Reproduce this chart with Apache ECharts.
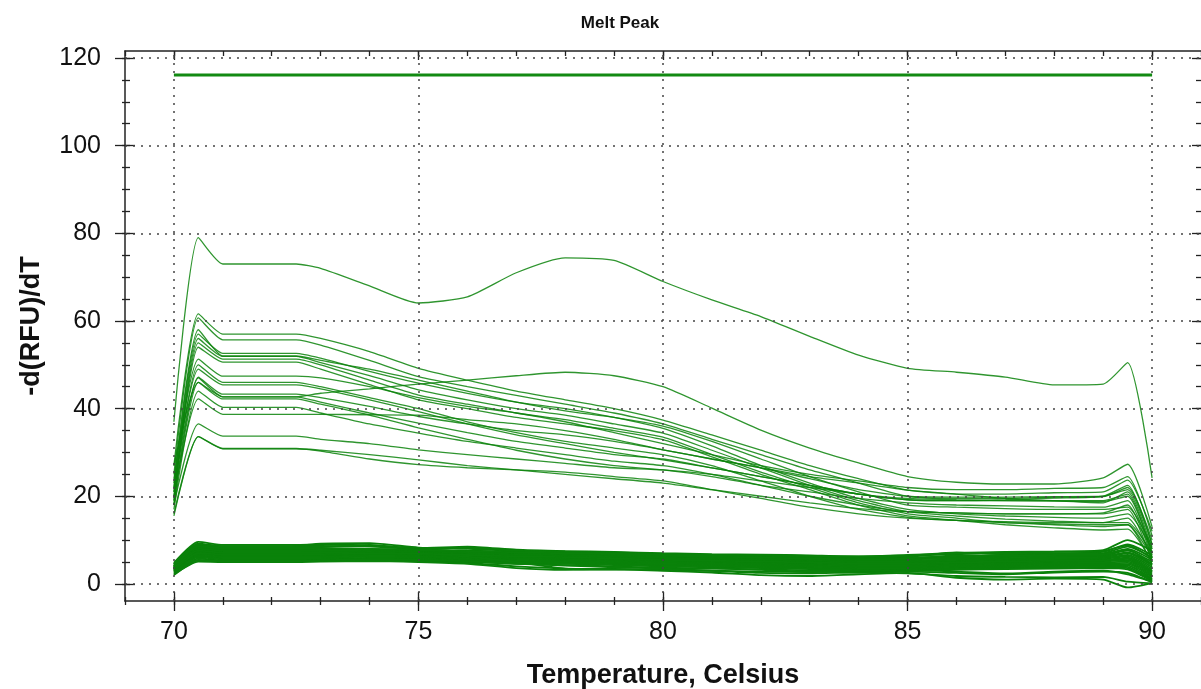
<!DOCTYPE html>
<html>
<head>
<meta charset="utf-8">
<script src="https://cdn.jsdelivr.net/npm/echarts@6/dist/echarts.min.js"></script>
<style>
  html, body { margin: 0; padding: 0; background: #fff; }
  #meltPeak { width: 1201px; height: 689px; }
</style>
</head>
<body>
<div id="meltPeak"></div>
<script>
// temperatures (Celsius) at which every curve is sampled
const temps = [70, 70.5, 71, 72, 72.5, 73, 74, 75, 76, 77, 78, 79, 80, 81, 82, 83, 84, 85, 86, 87, 88, 89, 89.5, 90]

// flat threshold line across the top
const thresholdTemps = [70, 90]
const thresholdLevel = [116.1, 116.1]

// highest curve and the one with a bump near 78
const peakCurve = [37, 79, 73, 73, 73, 72, 68, 64.1, 65.5, 71, 74.4, 73.8, 69, 64.8, 61, 56.5, 52.2, 49.2, 48.3, 47.2, 45.4, 45.6, 50.5, 24.2]
const humpCurve = [27, 46, 42.7, 42.7, 42.7, 43.5, 44.5, 45.6, 46.5, 47.5, 48.3, 47.5, 45, 40.1, 35.1, 31, 27.6, 24.5, 23.2, 22.8, 22.8, 24.2, 27.3, 13]

// middle group (20..60)
const upperCurves = [
  [27, 61.6, 57, 57, 57, 56, 53, 49.2, 46.5, 44, 42, 40, 37.4, 34, 30.5, 27, 24, 21.4, 20.5, 20.5, 20.8, 21, 23.7, 12],
  [25, 60.7, 55.7, 55.7, 55.7, 54.5, 51, 47.3, 45, 43, 41, 39, 36.5, 33, 29.5, 26, 23, 20, 19.5, 19.5, 19.8, 19.9, 22, 10],
  [22, 57, 52.6, 52.6, 52.6, 51.5, 48.5, 45.8, 43.5, 41.5, 40, 38, 35.5, 31.5, 27, 23, 19.5, 17, 16, 15.5, 15.2, 15, 16, 8],
  [20, 56, 51.9, 51.9, 51.9, 50.5, 47.5, 44.3, 42, 40, 38.5, 36.5, 34.4, 30.5, 26.5, 22.5, 19, 16.5, 15.5, 14.8, 14.3, 14, 14, 7],
  [19, 55, 51.3, 51.3, 51.3, 50, 46.5, 43.1, 41, 39, 37.5, 35.5, 33.5, 29.5, 25.5, 22, 18.5, 16, 15, 14, 13.5, 13.1, 13.5, 6],
  [18, 54, 50.6, 50.6, 50.6, 49, 45.5, 42, 40, 38, 36.5, 35, 32.9, 29, 25, 21.5, 18, 15.5, 14.5, 13.5, 12.8, 12.3, 12.5, 5],
  [24, 51.3, 47.4, 47.4, 47.4, 47, 45, 42.5, 40.5, 39, 37, 34.5, 32, 29.5, 27, 25, 23.5, 22, 21.5, 21.5, 21.8, 22, 24.5, 11],
  [22, 49, 45.4, 45.4, 45.4, 44.5, 42, 39.3, 36.5, 34, 32, 30, 28.3, 26.5, 24.5, 22.5, 20.5, 19.2, 19, 19.2, 19.6, 20, 22.5, 9],
  [21, 47.2, 43.3, 43.3, 43.3, 42.5, 40.5, 38.2, 36.5, 35, 34, 32.5, 30.6, 28.5, 26.5, 24.5, 23, 21.4, 20.5, 19.5, 19, 18.5, 21, 8],
  [19, 47, 42.7, 42.7, 42.7, 41.5, 39, 36.7, 34.5, 32.5, 31, 29.5, 28.5, 26.5, 24.5, 22.5, 20.5, 19.2, 19, 19, 19, 19, 20.5, 7],
  [18, 46, 42.2, 42.2, 42.2, 41, 38.5, 35.6, 33, 30.5, 28.5, 27, 26, 24.5, 22.5, 21, 19.5, 18.5, 18, 17.8, 17.6, 17.5, 19, 6.5],
  [17, 44, 40.3, 40.3, 40.3, 39, 36.5, 34.4, 32.5, 31, 29.5, 28, 27, 25, 22.5, 20, 18, 16.5, 16.2, 16, 16, 16.2, 18, 6],
  [20, 42.2, 38.7, 38.7, 38.7, 38.7, 38.6, 38.5, 37.5, 36.5, 35, 33, 30.6, 28.5, 26.5, 24, 21.5, 20, 19.8, 19.8, 19.9, 20, 21.5, 9],
  [18, 36.5, 33.7, 33.7, 33.7, 33, 32, 30.6, 29.5, 28.5, 27.5, 26.5, 26, 25, 23.5, 22, 20.5, 19.5, 19.2, 19, 18.9, 18.8, 20, 7],
  [16, 33.6, 30.9, 30.9, 30.9, 30.5, 29.5, 28.3, 27, 26, 25, 24, 23, 21.5, 20, 18.5, 17.2, 16.5, 16.2, 16, 16, 16, 17, 5],
  [15.5, 33.6, 30.8, 30.8, 30.8, 30.3, 28.5, 27.2, 26.5, 26, 25.5, 24.5, 23.5, 21.5, 19.5, 17.5, 16, 15, 14.5, 14, 13.7, 13.5, 13.5, 4.5],
  [23, 58, 52, 52, 52, 51, 49, 46.5, 44, 41.5, 39.5, 38, 36, 32.5, 28.5, 24.5, 21, 18, 17.5, 17.2, 17, 17, 17.5, 8.5],
  [21, 50, 46, 46, 46, 45, 42.5, 40, 37, 34.5, 32.5, 31, 29.5, 27, 23.5, 20, 17, 15.2, 14.5, 14.2, 14, 14, 15, 6]
]

// dense band near the baseline (0..10)
const lowerCurves = [
  [4.8, 9.6, 8.9, 8.9, 8.9, 9.0, 8.8, 8.2, 8.5, 7.8, 7.5, 7.3, 7.0, 6.8, 6.7, 6.5, 6.3, 6.5, 6.8, 7.2, 7.0, 7.3, 9.0, 6.5],
  [4.6, 9.2, 8.6, 8.6, 8.6, 8.7, 8.5, 8.0, 8.2, 7.6, 7.4, 7.2, 6.8, 6.6, 6.4, 6.2, 6.1, 6.2, 7.0, 6.8, 6.9, 7.0, 8.5, 6.0],
  [4.4, 8.9, 8.4, 8.4, 8.4, 8.5, 8.9, 7.9, 7.6, 7.4, 7.2, 7.0, 6.6, 6.5, 6.3, 6.0, 5.9, 6.0, 6.2, 6.6, 6.7, 6.8, 8.0, 5.5],
  [4.2, 8.7, 8.2, 8.2, 8.2, 8.2, 8.0, 7.8, 7.4, 7.2, 7.0, 6.8, 6.5, 6.3, 6.1, 5.9, 5.7, 5.8, 6.0, 6.3, 6.4, 6.5, 7.6, 5.0],
  [4.0, 8.5, 8.0, 8.0, 8.0, 8.0, 7.8, 7.6, 7.3, 7.0, 6.9, 6.6, 6.3, 6.1, 5.9, 5.7, 5.5, 5.6, 5.8, 6.1, 6.2, 6.3, 7.2, 4.6],
  [3.9, 8.3, 7.8, 7.8, 7.8, 7.7, 7.6, 7.4, 7.2, 6.9, 6.7, 6.5, 6.2, 6.0, 5.8, 5.5, 5.4, 5.4, 5.6, 5.9, 6.0, 6.1, 7.0, 4.2],
  [3.8, 8.1, 7.6, 7.6, 7.6, 7.6, 7.4, 7.3, 7.0, 6.8, 6.6, 6.3, 6.0, 5.8, 5.6, 5.4, 5.2, 5.2, 5.4, 5.7, 5.8, 5.9, 6.6, 3.8],
  [3.7, 7.9, 7.4, 7.4, 7.4, 7.4, 7.3, 7.1, 6.8, 6.6, 6.4, 6.1, 5.8, 5.6, 5.4, 5.2, 5.0, 5.0, 5.2, 5.5, 5.6, 5.7, 6.3, 3.4],
  [3.6, 7.7, 7.2, 7.2, 7.2, 7.2, 7.1, 7.0, 6.7, 6.4, 6.2, 5.9, 5.6, 5.4, 5.2, 5.0, 4.8, 4.8, 5.0, 5.3, 5.4, 5.5, 6.0, 3.0],
  [3.5, 7.5, 7.0, 7.0, 7.0, 7.0, 6.9, 6.8, 6.5, 6.2, 6.0, 5.7, 5.4, 5.2, 5.0, 4.8, 4.6, 4.6, 4.8, 5.0, 5.2, 5.3, 5.7, 2.7],
  [3.4, 7.3, 6.8, 6.8, 6.8, 6.8, 6.7, 6.6, 6.3, 6.0, 5.8, 5.5, 5.2, 5.0, 4.8, 4.6, 4.4, 4.4, 4.6, 4.8, 5.0, 5.1, 5.4, 2.4],
  [3.3, 7.1, 6.6, 6.6, 6.6, 6.6, 6.5, 6.4, 6.1, 5.8, 5.6, 5.3, 5.0, 4.8, 4.6, 4.4, 4.2, 4.2, 4.4, 4.6, 4.8, 4.9, 5.1, 2.1],
  [3.2, 6.9, 6.4, 6.4, 6.4, 6.4, 6.3, 6.2, 5.9, 5.6, 5.4, 5.1, 4.8, 4.6, 4.4, 4.2, 4.0, 4.0, 4.2, 4.4, 4.6, 4.7, 4.8, 1.8],
  [3.1, 6.7, 6.2, 6.2, 6.2, 6.2, 6.1, 6.0, 5.7, 5.4, 5.2, 4.9, 4.6, 4.4, 4.2, 4.0, 3.8, 3.8, 4.0, 4.2, 4.4, 4.5, 4.5, 1.5],
  [3.0, 6.5, 6.0, 6.0, 6.0, 6.0, 5.9, 5.8, 5.5, 5.2, 5.0, 4.7, 4.4, 4.2, 4.0, 3.8, 3.6, 3.6, 3.8, 4.0, 4.2, 4.3, 4.2, 1.2],
  [2.9, 6.3, 5.8, 5.8, 5.8, 5.8, 5.7, 5.6, 5.3, 5.0, 4.8, 4.5, 4.2, 4.0, 3.8, 3.6, 3.4, 3.4, 3.6, 3.8, 4.0, 4.1, 3.9, 1.0],
  [2.8, 6.1, 5.6, 5.6, 5.6, 5.6, 5.5, 5.4, 5.1, 4.8, 4.6, 4.3, 4.0, 3.8, 3.6, 3.4, 3.2, 3.2, 3.4, 3.6, 3.8, 3.9, 3.6, 0.8],
  [2.6, 5.8, 5.4, 5.4, 5.4, 5.4, 5.4, 5.3, 5.0, 4.6, 4.3, 4.0, 3.7, 3.5, 3.3, 3.1, 3.0, 3.0, 3.2, 3.4, 3.5, 3.6, 3.3, 0.6],
  [2.4, 5.5, 5.2, 5.2, 5.2, 5.2, 5.3, 5.2, 4.8, 4.0, 3.5, 3.4, 3.2, 3.0, 2.8, 2.7, 2.8, 2.8, 2.5, 2.2, 2.6, 2.8, 2.5, 0.4],
  [2.2, 5.1, 5.0, 5.0, 5.0, 5.1, 5.2, 5.0, 4.6, 3.6, 3.2, 3.3, 3.0, 2.6, 2.0, 1.8, 2.2, 2.5, 1.4, 1.0, 1.2, 1.0, -0.8, 0.2],
  [4.5, 9.0, 8.6, 8.6, 8.7, 9.2, 9.3, 8.3, 8.0, 7.5, 7.3, 7.0, 6.7, 6.6, 6.5, 6.3, 6.2, 6.4, 7.2, 6.9, 7.3, 7.5, 8.8, 5.8],
  [4.0, 8.0, 7.6, 7.6, 7.6, 7.7, 7.7, 7.8, 8.3, 7.6, 7.1, 6.7, 6.4, 6.2, 6.0, 5.8, 5.6, 5.8, 6.5, 6.4, 6.6, 6.7, 7.8, 4.4],
  [3.3, 7.0, 6.7, 6.7, 6.7, 6.8, 6.9, 6.8, 6.2, 5.0, 3.5, 3.3, 3.4, 3.6, 3.2, 2.8, 3.0, 3.2, 2.8, 2.4, 2.8, 3.0, 2.2, 0.5],
  [2.0, 5.4, 5.2, 5.2, 5.2, 5.4, 5.6, 5.5, 5.2, 4.6, 4.2, 3.8, 3.5, 3.0, 2.5, 2.4, 2.6, 2.4, 1.8, 1.6, 1.5, 1.6, 0.5, 0.1],
  [4.1, 8.6, 8.1, 8.1, 8.1, 8.1, 7.9, 7.7, 7.5, 7.2, 7.0, 6.9, 6.6, 6.5, 6.6, 6.4, 6.2, 6.6, 7.0, 7.3, 7.4, 7.7, 10.0, 7.5],
  [3.6, 7.6, 7.1, 7.1, 7.1, 7.1, 7.0, 6.9, 6.6, 6.3, 6.1, 5.8, 5.5, 5.3, 5.1, 4.9, 4.7, 4.7, 4.9, 5.1, 5.3, 5.4, 5.8, 2.9]
]

// tick positions
const xMajorTicks = [70, 75, 80, 85, 90]
const yMajorTicks = [0, 20, 40, 60, 80, 100, 120]
const yMinorTicks = [0, 5, 10, 15, 20, 25, 30, 35, 40, 45, 50, 55, 60, 65, 70, 75, 80, 85, 90, 95, 100, 105, 110, 115, 120]

const font = 'Liberation Sans, Arial, sans-serif'
const green = '#0a820a'

function pairs(xs, ys) {
  return ys.map((y, i) => [xs[i], y])
}

function curveSeries(values, width, opacity) {
  return {
    type: 'line',
    data: pairs(temps, values),
    symbol: 'none',
    silent: true,
    smooth: 0.2,
    lineStyle: { color: green, width: width, opacity: opacity },
    z: 3
  }
}

// all axes share one scale; several tick sets are stacked on each side
function xAxisBase(extra) {
  return Object.assign({
    type: 'value', min: 69, max: 91, interval: 1,
    axisLine: { show: false, onZero: false },
    axisLabel: { show: false },
    splitLine: { show: false },
    axisTick: { show: false }
  }, extra)
}
function yAxisBase(extra) {
  return Object.assign({
    type: 'value', min: -3.9, max: 121.6,
    axisLine: { show: false, onZero: false },
    axisLabel: { show: false },
    splitLine: { show: false },
    axisTick: { show: false }
  }, extra)
}
const tickStyle = { color: '#222', width: 1.3 }
const frameLine = { show: true, onZero: false, lineStyle: { color: '#222', width: 1.5 } }

let myChart = echarts.init(document.getElementById('meltPeak'))

let series = []
series.push({
  type: 'line',
  data: pairs(thresholdTemps, thresholdLevel),
  symbol: 'none',
  silent: true,
  lineStyle: { color: '#128a12', width: 3 },
  z: 4,
  markLine: {
    silent: true,
    symbol: 'none',
    label: { show: false },
    lineStyle: { color: '#444', width: 1.5, type: [2, 6] },
    data: xMajorTicks.map(v => ({ xAxis: v })).concat(yMajorTicks.map(v => ({ yAxis: v })))
  }
})
series.push(curveSeries(peakCurve, 1.3, 0.85))
series.push(curveSeries(humpCurve, 1.3, 0.85))
upperCurves.forEach(c => series.push(curveSeries(c, 1.3, 0.85)))
lowerCurves.forEach(c => series.push(curveSeries(c, 1.8, 1)))

let option = {
  animation: false,
  backgroundColor: '#fff',
  textStyle: { fontFamily: font },
  title: {
    text: 'Melt Peak',
    left: 615,
    top: 10,
    textAlign: 'center',
    textStyle: { fontSize: 17, fontWeight: 'bold', color: '#111', fontFamily: font }
  },
  grid: { left: 125, right: 0, top: 51, bottom: 88, outerBoundsMode: 'none' },
  xAxis: [
    // bottom: line, labels, minor outside ticks
    xAxisBase({
      position: 'bottom',
      axisLine: frameLine,
      axisTick: { show: true, length: 4, lineStyle: tickStyle },
      axisLabel: {
        show: true, fontSize: 25, color: '#111', margin: 19, fontFamily: font,
        formatter: v => (v % 5 === 0 ? String(v) : '')
      },
      name: 'Temperature, Celsius',
      nameLocation: 'middle',
      nameGap: 61,
      nameTextStyle: { fontSize: 27, fontWeight: 'bold', color: '#111', fontFamily: font }
    }),
    // bottom: minor inside ticks
    xAxisBase({ position: 'bottom', axisTick: { show: true, inside: true, length: 4, lineStyle: tickStyle } }),
    // bottom: major ticks crossing the line
    xAxisBase({ position: 'bottom', axisTick: { show: true, length: 10, customValues: xMajorTicks, lineStyle: tickStyle } }),
    xAxisBase({ position: 'bottom', axisTick: { show: true, inside: true, length: 9, customValues: xMajorTicks, lineStyle: tickStyle } }),
    // top frame
    xAxisBase({
      position: 'top',
      axisLine: frameLine,
      axisTick: { show: true, inside: true, length: 5, lineStyle: tickStyle }
    }),
    xAxisBase({ position: 'top', axisTick: { show: true, inside: true, length: 9, customValues: xMajorTicks, lineStyle: tickStyle } })
  ],
  yAxis: [
    // left: line, labels, major outside ticks
    yAxisBase({
      position: 'left',
      axisLine: frameLine,
      axisTick: { show: true, length: 10, customValues: yMajorTicks, lineStyle: tickStyle },
      axisLabel: { show: true, fontSize: 25, color: '#111', margin: 24, customValues: yMajorTicks, fontFamily: font },
      name: '-d(RFU)/dT',
      nameLocation: 'middle',
      nameGap: 80,
      nameTextStyle: { fontSize: 27, fontWeight: 'bold', color: '#111', fontFamily: font }
    }),
    yAxisBase({ position: 'left', axisTick: { show: true, inside: true, length: 10, customValues: yMajorTicks, lineStyle: tickStyle } }),
    yAxisBase({ position: 'left', axisTick: { show: true, length: 3, customValues: yMinorTicks, lineStyle: tickStyle } }),
    yAxisBase({ position: 'left', axisTick: { show: true, inside: true, length: 5, customValues: yMinorTicks, lineStyle: tickStyle } }),
    // right frame
    yAxisBase({ position: 'right', axisTick: { show: true, inside: true, length: 9, customValues: yMajorTicks, lineStyle: tickStyle } }),
    yAxisBase({ position: 'right', axisTick: { show: true, inside: true, length: 5, customValues: yMinorTicks, lineStyle: tickStyle } })
  ],
  series: series
}

myChart.setOption(option)
</script>
</body>
</html>
